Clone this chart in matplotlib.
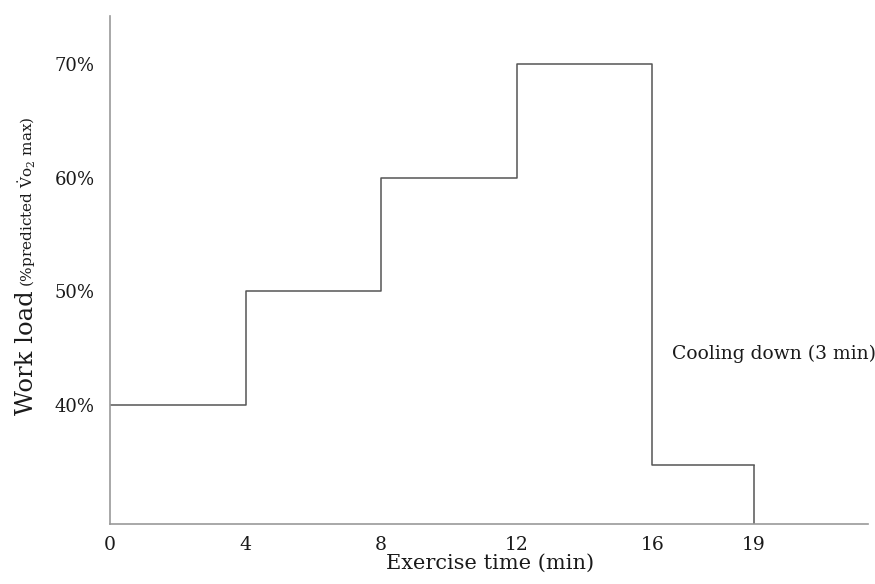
import matplotlib
matplotlib.use('Agg')
import matplotlib.pyplot as plt

# Data
stage_times = [0, 4, 8, 12, 16, 19]          # minutes (stage boundaries)
stage_loads = [40, 50, 60, 70, 34.7]          # % predicted VO2 max per stage
xtick_values = [0, 4, 8, 12, 16, 19]
xtick_labels = ['0', '4', '8', '12', '16', '19']
ytick_values = [40, 50, 60, 70]
ytick_labels = ['40%', '50%', '60%', '70%']
cooling_label = 'Cooling down (3 min)'

plt.rcParams['font.family'] = ['DejaVu Serif']
plt.rcParams['mathtext.fontset'] = 'dejavuserif'

W, H = 875, 584
fig = plt.figure(figsize=(W / 100, H / 100), dpi=100)
ax = fig.add_axes([110 / W, 60 / H, 758 / W, (524 - 15.6) / H])

ymin, ymax = 29.52, 74.29
ax.set_xlim(0, 22.36)
ax.set_ylim(ymin, ymax)

line_color = '#555555'
ax.step(stage_times, stage_loads + [stage_loads[-1]], where='post',
        color=line_color, lw=1.1)
ax.vlines(stage_times[-1], ymin, stage_loads[-1], color=line_color, lw=1.1)

for s in ['top', 'right']:
    ax.spines[s].set_visible(False)
for s in ['left', 'bottom']:
    ax.spines[s].set_color('#999999')
    ax.spines[s].set_linewidth(1.2)

ax.set_xticks(xtick_values)
ax.set_xticklabels(xtick_labels, fontsize=13.5, color='#1a1a1a')
ax.set_yticks(ytick_values)
ax.set_yticklabels(ytick_labels, fontsize=13, color='#1a1a1a')
ax.tick_params(axis='x', length=0, pad=8.5)
ax.tick_params(axis='y', length=0, pad=11)

ax.text(stage_times[-2] + 0.58, 44.05, cooling_label, fontsize=13.5,
        va='baseline', ha='left', color='#1a1a1a')

# Axis labels
fig.text(490 / W, 1 - 569 / H, 'Exercise time (min)', fontsize=15,
         ha='center', va='baseline', color='#1a1a1a')
fig.text(33 / W, 1 - 415 / H, 'Work load', fontsize=17.5, rotation=90,
         rotation_mode='anchor', ha='left', va='baseline', color='#1a1a1a')
fig.text(33 / W, 1 - 287 / H, r'(%predicted $\dot{\mathrm{V}}\mathrm{o}_2$ max)',
         fontsize=11, rotation=90, rotation_mode='anchor', ha='left',
         va='baseline', color='#1a1a1a')

fig.savefig('out.png', dpi=100)
